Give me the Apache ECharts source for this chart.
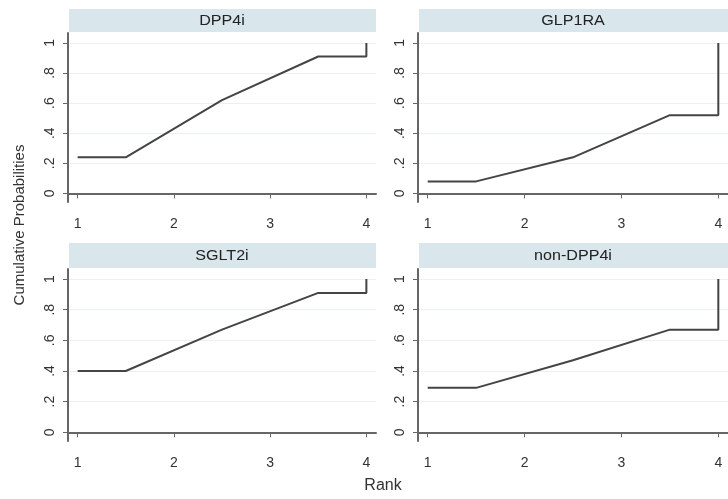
<!DOCTYPE html>
<html>
<head>
  <meta charset="utf-8">
  <title>Cumulative rank probabilities</title>
  <script src="https://cdn.jsdelivr.net/npm/echarts@6/dist/echarts.min.js"></script>
  <style>
    html, body { margin: 0; padding: 0; background: #fff; }
    #main { width: 728px; height: 499px; }
  </style>
</head>
<body>
  <div id="main"></div>
  <script>
    // 数据：累积排序概率
    var panels = ['DPP4i', 'GLP1RA', 'SGLT2i', 'non-DPP4i'];
    var rankX = [1, 1.5, 2.5, 3.5, 4, 4];
    var dpp4i = [0.24, 0.24, 0.62, 0.91, 0.91, 1];
    var glp1ra = [0.08, 0.08, 0.24, 0.52, 0.52, 1];
    var sglt2i = [0.40, 0.40, 0.67, 0.91, 0.91, 1];
    var nonDpp4i = [0.29, 0.29, 0.47, 0.67, 0.67, 1];
    var xTicks = [1, 2, 3, 4];
    var yTicks = [0, 0.2, 0.4, 0.6, 0.8, 1];
    var yTickLabels = ['0', '.2', '.4', '.6', '.8', '1'];

    var seriesData = [dpp4i, glp1ra, sglt2i, nonDpp4i];

    var myChart = echarts.init(document.getElementById('main'));

    // 每个面板的位置
    var boxes = [
      { left: 68, top: 33, width: 308, height: 169, head: 9 },
      { left: 418, top: 33, width: 310, height: 169, head: 9 },
      { left: 68, top: 269, width: 308, height: 172, head: 243 },
      { left: 418, top: 269, width: 310, height: 172, head: 243 }
    ];

    var axisColor = '#666';
    var grids = [], xAxes = [], yAxes = [], series = [], graphics = [];

    boxes.forEach(function (b, i) {
      grids.push({ left: b.left, top: b.top, width: b.width, height: b.height });
      xAxes.push({
        gridIndex: i,
        type: 'value',
        min: 0.9,
        max: 4.1,
        axisLine: { lineStyle: { color: axisColor, width: 2 } },
        axisTick: { customValues: xTicks, length: 5, lineStyle: { color: axisColor } },
        axisLabel: {
          customValues: xTicks,
          color: '#333',
          fontSize: 14,
          fontFamily: 'Liberation Sans',
          margin: 15
        },
        splitLine: { show: false }
      });
      yAxes.push({
        gridIndex: i,
        type: 'value',
        min: -0.057,
        max: 1.066,
        axisLine: { show: true, lineStyle: { color: axisColor, width: 2 } },
        axisTick: { show: true, customValues: yTicks, length: 5, lineStyle: { color: axisColor } },
        axisLabel: {
          customValues: yTicks,
          rotate: 90,
          color: '#333',
          fontSize: 14,
          fontFamily: 'Liberation Sans',
          margin: 11,
          formatter: function (v) {
            var k = yTicks.findIndex(function (t) { return Math.abs(t - v) < 1e-6; });
            return k >= 0 ? yTickLabels[k] : '';
          }
        },
        splitLine: { show: true, lineStyle: { color: '#eaf1f3', width: 1 } }
      });
      series.push({
        type: 'line',
        xAxisIndex: i,
        yAxisIndex: i,
        data: rankX.map(function (x, j) { return [x, seriesData[i][j]]; }),
        showSymbol: false,
        lineStyle: { color: '#444', width: 2 },
        silent: true
      });
      // 面板标题条
      graphics.push({
        type: 'rect',
        shape: { x: b.left + 1, y: b.head, width: b.width - 1, height: b.top - b.head - 1 },
        style: { fill: '#d9e6eb' }
      });
      graphics.push({
        type: 'text',
        x: b.left + b.width / 2,
        y: (b.head + b.top) / 2,
        scaleX: 1.15,
        style: {
          text: panels[i],
          fill: '#222',
          font: '14px "Liberation Sans"',
          textAlign: 'center',
          textVerticalAlign: 'middle'
        }
      });
    });

    graphics.push({
      type: 'text',
      x: 20,
      y: 225,
      rotation: Math.PI / 2,
      style: {
        text: 'Cumulative Probabilities',
        fill: '#333',
        font: '15px "Liberation Sans"',
        textAlign: 'center',
        textVerticalAlign: 'middle'
      }
    });
    graphics.push({
      type: 'text',
      x: 383,
      y: 486,
      style: {
        text: 'Rank',
        fill: '#333',
        font: '16px "Liberation Sans"',
        textAlign: 'center',
        textVerticalAlign: 'middle'
      }
    });

    var option = {
      animation: false,
      grid: grids,
      xAxis: xAxes,
      yAxis: yAxes,
      series: series,
      graphic: graphics
    };

    myChart.setOption(option);
  </script>
</body>
</html>
